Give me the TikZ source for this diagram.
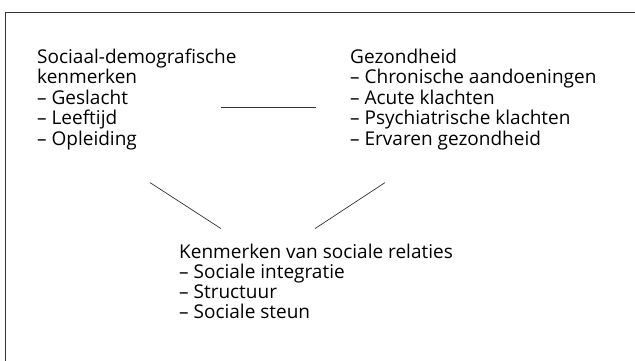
\documentclass[tikz,border=0pt]{standalone}
\usepackage{fontspec}
\setmainfont{Open Sans}
\usetikzlibrary{positioning,calc}

\tikzset{
  blok/.style={align=left, anchor=north west, inner sep=0pt,
    font=\fontsize{19}{20.5}\selectfont},
  lijn/.style={line width=0.7pt, black!80}
}

\begin{document}
\begin{tikzpicture}[x=1pt, y=-1pt]
  \useasboundingbox (0,0) rectangle (635,361);

  % kader
  \coordinate (kaderlo) at (5,361);
  \coordinate (kaderlb) at (5,13);
  \coordinate (kaderrb) at (635,13);
  \draw[lijn, line width=1pt] (kaderlo) -- (kaderlb) -- (kaderrb);

  \node[blok] (demo) at (37,48.6) {Sociaal-demografische\\kenmerken\\-- Geslacht\\-- Leeftijd\\-- Opleiding};
  \node[blok] (gez) at (350,48.6) {Gezondheid\\-- Chronische aandoeningen\\-- Acute klachten\\-- Psychiatrische klachten\\-- Ervaren gezondheid};
  \node[blok, font=\fontsize{19}{20}\selectfont] (rel) at (179,243.6) {Kenmerken van sociale relaties\\-- Sociale integratie\\-- Structuur\\-- Sociale steun};

  \draw[lijn] ([shift={(-16,59)}]demo.north east) -- ([shift={(-34,59)}]gez.north west);
  \draw[lijn] ([shift={(113,134)}]demo.north west) -- ([shift={(42,-15)}]rel.north west);
  \draw[lijn] ([shift={(35,134)}]gez.north west) -- ([shift={(136,-15)}]rel.north west);

\end{tikzpicture}
\end{document}
